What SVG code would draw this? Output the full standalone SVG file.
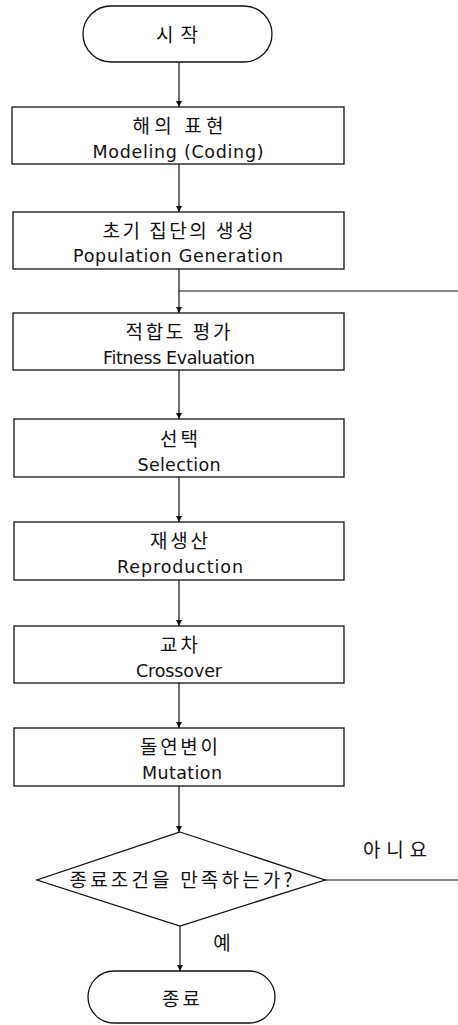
<svg xmlns="http://www.w3.org/2000/svg" width="458" height="1025" viewBox="0 0 458 1025">
<style>
.shape{fill:#fff;stroke:#111;stroke-width:1.3}
.ko{font-family:"Noto Sans CJK KR","Noto Sans",sans-serif;font-size:19px;fill:#111;text-anchor:middle}
.en{font-family:"DejaVu Sans","Liberation Sans",sans-serif;font-size:17.5px;fill:#111;text-anchor:middle}
.line{fill:none;stroke:#111;stroke-width:1.2}
</style>
<defs>
<marker id="arr" markerWidth="8" markerHeight="8" refX="6" refY="3" orient="auto" markerUnits="userSpaceOnUse">
<path d="M0,0 L6,3 L0,6 Z" fill="#111"/>
</marker>
</defs>
<rect width="458" height="1025" fill="#fff"/>
<g id="connectors">
<line class="line" x1="179" y1="62" x2="179" y2="107" marker-end="url(#arr)"/>
<line class="line" x1="179" y1="164" x2="179" y2="212" marker-end="url(#arr)"/>
<line class="line" x1="179" y1="269" x2="179" y2="313" marker-end="url(#arr)"/>
<line class="line" x1="179" y1="370" x2="179" y2="419" marker-end="url(#arr)"/>
<line class="line" x1="179" y1="477" x2="179" y2="522" marker-end="url(#arr)"/>
<line class="line" x1="179" y1="580" x2="179" y2="626" marker-end="url(#arr)"/>
<line class="line" x1="179" y1="683" x2="179" y2="728" marker-end="url(#arr)"/>
<line class="line" x1="179" y1="786" x2="179" y2="832" marker-end="url(#arr)"/>
<line class="line" x1="180" y1="926" x2="180" y2="971" marker-end="url(#arr)"/>
<line class="line" x1="458" y1="291" x2="179" y2="291"/>
<line class="line" x1="325" y1="880" x2="458" y2="880"/>
<text class="ko" x="395" y="857" textLength="64">아니요</text>
<text class="ko" x="222" y="950">예</text>
</g>
<g id="start">
<rect class="shape" x="83" y="6" width="189" height="56" rx="28" ry="28"/>
<text class="ko" x="177" y="42" textLength="42">시작</text>
</g>
<g id="modeling">
<rect class="shape" x="12" y="107" width="332" height="57"/>
<text class="ko" x="178" y="133" textLength="91">해의 표현</text>
<text class="en" x="178" y="158" textLength="171">Modeling (Coding)</text>
</g>
<g id="population">
<rect class="shape" x="13" y="212" width="331" height="57"/>
<text class="ko" x="178" y="238" textLength="151">초기 집단의 생성</text>
<text class="en" x="178" y="262" textLength="210">Population Generation</text>
</g>
<g id="fitness">
<rect class="shape" x="13" y="313" width="331" height="57"/>
<text class="ko" x="178" y="339" textLength="105">적합도 평가</text>
<text class="en" x="179" y="364" textLength="152">Fitness Evaluation</text>
</g>
<g id="selection">
<rect class="shape" x="14" y="419" width="330" height="58"/>
<text class="ko" x="179" y="446" textLength="38">선택</text>
<text class="en" x="179" y="471" textLength="83">Selection</text>
</g>
<g id="reproduction">
<rect class="shape" x="14" y="522" width="330" height="58"/>
<text class="ko" x="179" y="548" textLength="58">재생산</text>
<text class="en" x="180" y="573" textLength="126">Reproduction</text>
</g>
<g id="crossover">
<rect class="shape" x="14" y="626" width="330" height="57"/>
<text class="ko" x="179" y="652" textLength="38">교차</text>
<text class="en" x="179" y="677" textLength="86">Crossover</text>
</g>
<g id="mutation">
<rect class="shape" x="14" y="728" width="330" height="58"/>
<text class="ko" x="179" y="754" textLength="78">돌연변이</text>
<text class="en" x="182" y="779" textLength="80">Mutation</text>
</g>
<g id="decision">
<polygon class="shape" points="180,832 325,880 180,926 37,880"/>
<text class="ko" x="181" y="887" textLength="223">종료조건을 만족하는가?</text>
</g>
<g id="end">
<rect class="shape" x="88" y="971" width="187" height="52" rx="26" ry="26"/>
<text class="ko" x="181" y="1006" textLength="38">종료</text>
</g>
</svg>
